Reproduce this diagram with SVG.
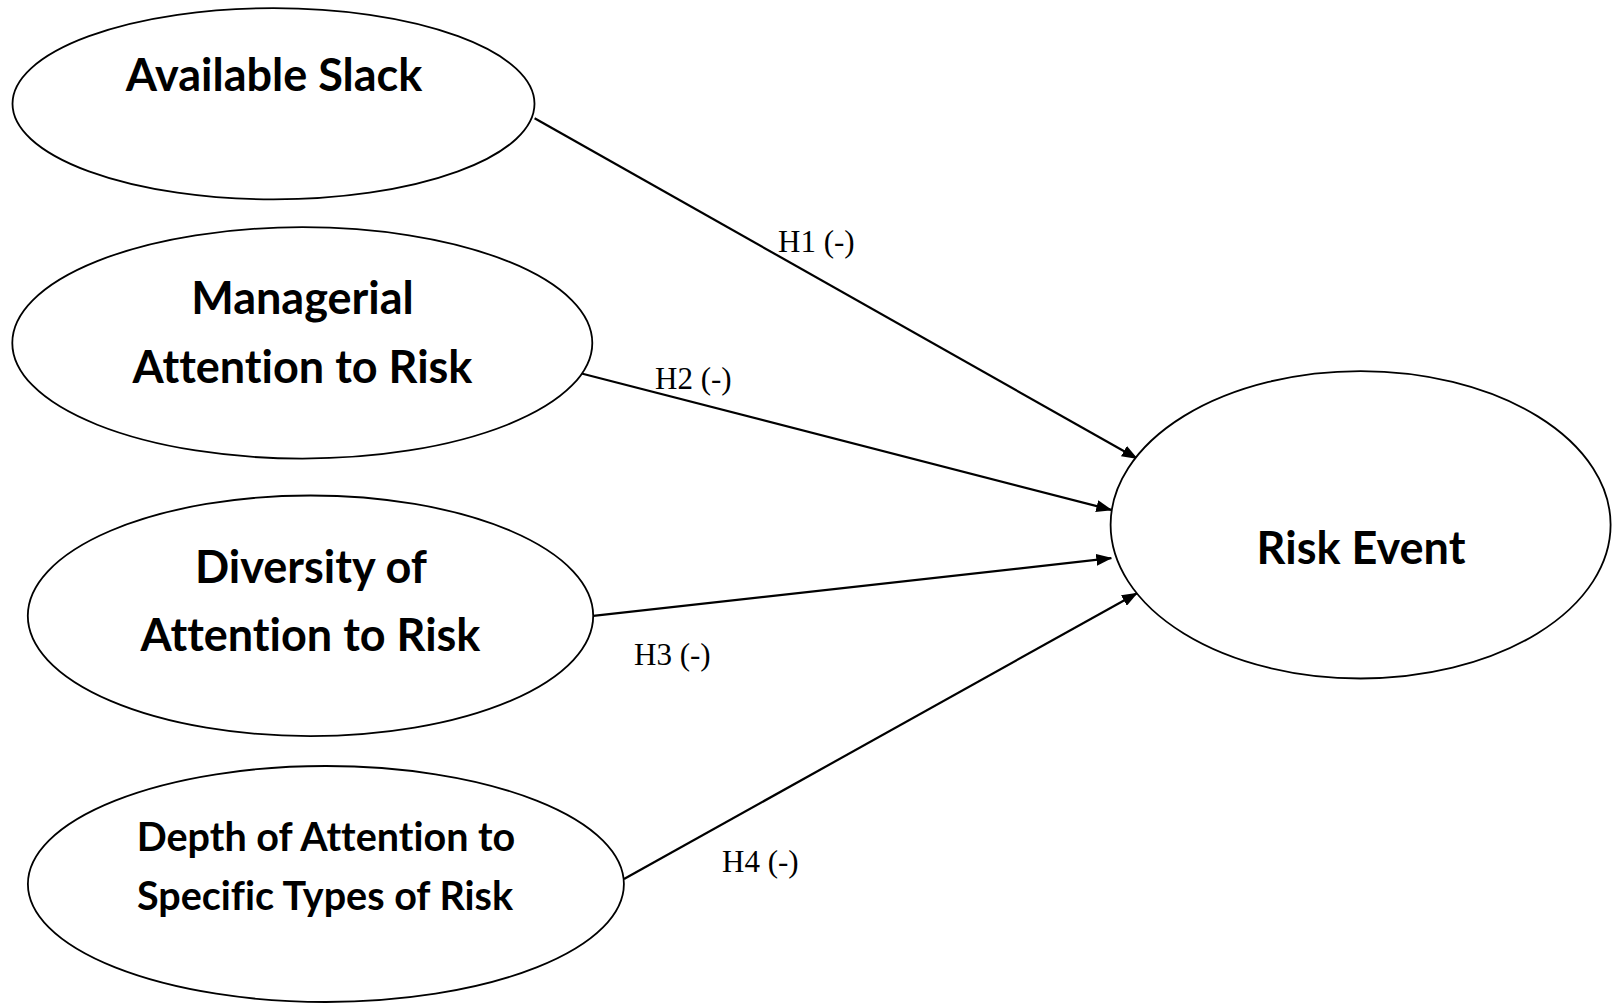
<svg xmlns="http://www.w3.org/2000/svg" width="1612" height="1004" viewBox="0 0 1612 1004">
<style>
.node ellipse{fill:#fff;stroke:#000;stroke-width:1.8}
.lbl{font-family:Lato,"Open Sans","Liberation Sans",sans-serif;font-weight:bold;font-size:45px;text-anchor:middle;fill:#000;font-variant-ligatures:none;font-feature-settings:"liga" 0}
.sm{font-size:39.5px}
.edge{stroke:#000;stroke-width:2.2;fill:none;marker-end:url(#arr)}
.hl{font-family:"Liberation Serif","Times New Roman",serif;font-size:31px;fill:#000}
</style>
<defs>
<marker id="arr" markerUnits="userSpaceOnUse" markerWidth="16" markerHeight="12" refX="15" refY="6" orient="auto">
<path d="M0,0 L16,6 L0,12 z" fill="#000"/>
</marker>
</defs>
<rect width="1612" height="1004" fill="#fff"/>
<g id="connectors">
<line class="edge" x1="534.6" y1="118.2" x2="1137" y2="458.5"/>
<line class="edge" x1="576.7" y1="372.2" x2="1111.3" y2="509.9"/>
<line class="edge" x1="593.2" y1="615.8" x2="1111.3" y2="558.2"/>
<line class="edge" x1="624" y1="879" x2="1137" y2="593.2"/>
<text class="hl" x="778" y="252">H1 (-)</text>
<text class="hl" x="655" y="389">H2 (-)</text>
<text class="hl" x="634" y="665">H3 (-)</text>
<text class="hl" x="722" y="872">H4 (-)</text>
</g>
<g id="available-slack" class="node">
<ellipse cx="273.5" cy="103.8" rx="261" ry="95.6"/>
<text class="lbl" x="274" y="90.5">Available Slack</text>
</g>
<g id="managerial-attention" class="node">
<ellipse cx="302.3" cy="342.9" rx="290" ry="115.7"/>
<text class="lbl" x="302.5" y="313.5">Managerial</text>
<text class="lbl" x="302.5" y="382.5">Attention to Risk</text>
</g>
<g id="diversity-attention" class="node">
<ellipse cx="310.5" cy="615.8" rx="282.7" ry="120.3"/>
<text class="lbl" x="311" y="583">Diversity of</text>
<text class="lbl" x="310.5" y="650.7">Attention to Risk</text>
</g>
<g id="depth-attention" class="node">
<ellipse cx="325.9" cy="884" rx="298" ry="118"/>
<text class="lbl sm" x="326" y="851">Depth of Attention to</text>
<text class="lbl sm" x="325" y="910">Specific Types of Risk</text>
</g>
<g id="risk-event" class="node">
<ellipse cx="1360.6" cy="524.8" rx="250" ry="153.7"/>
<text class="lbl" x="1361" y="563.5">Risk Event</text>
</g>
</svg>
